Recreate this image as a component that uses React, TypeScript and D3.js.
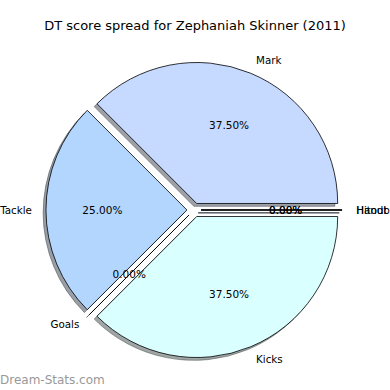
import React, { useEffect, useRef } from "react";
import * as d3 from "d3";

const categories = ["Hitout", "Mark", "Tackle", "Goals", "Kicks", "Handball"];
const values = [0, 3, 2, 0, 3, 0];
const colors = ["#d9ffff", "#c6d9ff", "#b3d6ff", "#c6d9ff", "#d9ffff", "#c6d9ff"];
const title = "DT score spread for Zephaniah Skinner (2011)";
const watermark = "Dream-Stats.com";

const WIDTH = 390;
const HEIGHT = 390;
const CX = 194;
const CY = 210;
const R = 141;
const EXPLODE = 0.05;
const FONT = "DejaVu Sans, sans-serif";

export default function App() {
  const svgRef = useRef<SVGSVGElement | null>(null);

  useEffect(() => {
    const svg = d3.select(svgRef.current);
    svg.selectAll("*").remove();

    const total = d3.sum(values);
    // matplotlib style: start at 3 o'clock, go counterclockwise
    const pie = d3
      .pie<number>()
      .sort(null)
      .startAngle(Math.PI / 2)
      .endAngle(Math.PI / 2 - 2 * Math.PI);
    const arcs = pie(values);
    const arc = d3.arc<d3.PieArcDatum<number>>().innerRadius(0).outerRadius(R);

    const g = svg.append("g").attr("transform", `translate(${CX},${CY})`);

    const offs = arcs.map((a) => {
      const m = (a.startAngle + a.endAngle) / 2;
      const d = EXPLODE * R;
      return { m, x: Math.sin(m) * d, y: -Math.cos(m) * d };
    });

    // shadows first (below everything)
    arcs.forEach((a, i) => {
      const c = d3.rgb(colors[i]);
      const sc = d3.rgb(c.r * 0.3, c.g * 0.3, c.b * 0.3).toString();
      g.append("path")
        .attr("d", arc(a)!)
        .attr("transform", `translate(${offs[i].x - 0.02 * R},${offs[i].y + 0.02 * R})`)
        .attr("fill", sc)
        .attr("fill-opacity", 0.5)
        .attr("stroke", sc)
        .attr("stroke-opacity", 0.5)
        .attr("stroke-width", 1);
    });

    arcs.forEach((a, i) => {
      g.append("path")
        .attr("d", arc(a)!)
        .attr("transform", `translate(${offs[i].x},${offs[i].y})`)
        .attr("fill", colors[i])
        .attr("stroke", "#000")
        .attr("stroke-width", 0.8);
    });

    arcs.forEach((a, i) => {
      const { m, x, y } = offs[i];
      const lx = x + 1.1 * R * Math.sin(m);
      const ly = y - 1.1 * R * Math.cos(m);
      g.append("text")
        .attr("x", lx)
        .attr("y", ly)
        .attr("dy", "0.35em")
        .attr("text-anchor", lx > 0 ? "start" : "end")
        .attr("font-family", FONT)
        .attr("font-size", 10.3)
        .attr("fill", "#000")
        .text(categories[i]);

      const px = x + 0.6 * R * Math.sin(m);
      const py = y - 0.6 * R * Math.cos(m);
      g.append("text")
        .attr("x", px)
        .attr("y", py)
        .attr("dy", "0.35em")
        .attr("text-anchor", "middle")
        .attr("font-family", FONT)
        .attr("font-size", 10.5)
        .attr("fill", "#000")
        .text(((a.data / total) * 100).toFixed(2) + "%");
    });

    svg.append("text")
      .attr("x", WIDTH / 2)
      .attr("y", 25)
      .attr("dy", "0.35em")
      .attr("text-anchor", "middle")
      .attr("font-family", FONT)
      .attr("font-size", 13)
      .attr("fill", "#000")
      .text(title);

    svg.append("text")
      .attr("x", 0)
      .attr("y", 380)
      .attr("dy", "0.35em")
      .attr("font-family", FONT)
      .attr("font-size", 12)
      .attr("fill", "#999")
      .text(watermark);
  }, []);

  return (
    <svg
      ref={svgRef}
      width={WIDTH}
      height={HEIGHT}
      style={{ position: "absolute", left: 0, top: 0, background: "#fff" }}
    />
  );
}
